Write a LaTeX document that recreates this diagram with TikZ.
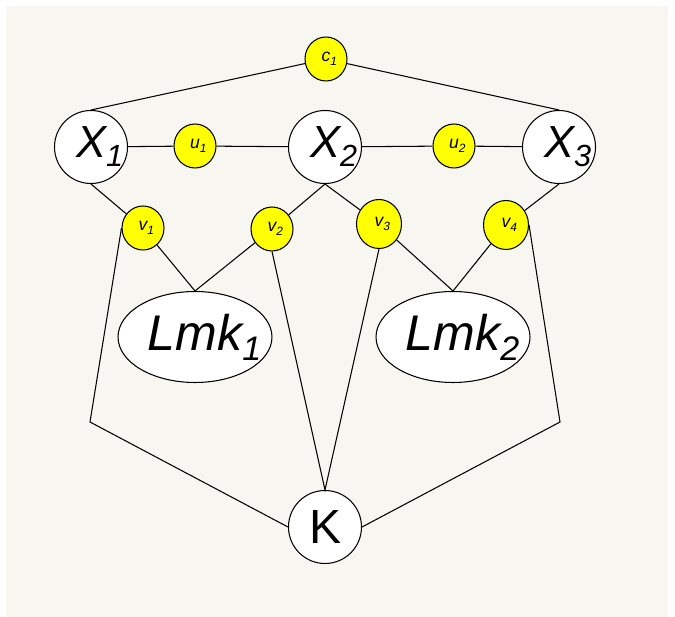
\documentclass[tikz,border=0pt]{standalone}
\usepackage{fontspec}
\setmainfont{Liberation Sans}
\usetikzlibrary{shapes.geometric}

\definecolor{paper}{RGB}{248,246,240}
\definecolor{factor}{RGB}{255,255,0}

\newcommand{\idx}[1]{\rlap{\raisebox{-0.2em}{\scalebox{0.68}{#1}}}}

\tikzset{
  pose/.style={circle, draw, fill=white, minimum size=1.46cm, inner sep=0pt,
    font=\fontsize{25.6}{30}\selectfont\itshape},
  fac/.style={ellipse, draw, fill=factor, minimum width=0.84cm, minimum height=0.88cm,
    inner sep=0pt, font=\fontsize{10}{12}\selectfont\itshape},
  lmk/.style={ellipse, draw, fill=white, minimum width=3.08cm, minimum height=1.82cm,
    inner sep=0pt, font=\fontsize{28.5}{34}\selectfont\itshape},
}

\begin{document}
\begin{tikzpicture}[x=0.02cm, y=-0.02cm, line width=0.6pt]
      \useasboundingbox (0, 0) rectangle (675, 617);
      \fill [white] (0, 0) rectangle (675, 617);
      \fill [paper] (6, 6) rectangle (668, 617);

      \node [fac] (c1) at (326, 59) {c\idx{1}};
      \node [pose] (x1) at (91, 147) {X\idx{1}};
      \node [pose] (x2) at (325, 147) {X\idx{2}};
      \node [pose] (x3) at (559, 147) {X\idx{3}};
      \node [fac] (u1) at (195, 146) {u\idx{1}};
      \node [fac] (u2) at (454, 146) {u\idx{2}};
      \node [fac] (v1) at (143, 228) {v\idx{1}};
      \node [fac] (v2) at (272, 229) {v\idx{2}};
      \node [fac, minimum width=0.9cm, minimum height=0.98cm] (v3) at (379, 224) {v\idx{3}};
      \node [fac, minimum width=0.9cm, minimum height=0.98cm] (v4) at (506, 225) {v\idx{4}};
      \node [lmk] (lmk1) at (195, 337) {Lmk\idx{1}};
      \node [lmk] (lmk2) at (453, 337) {Lmk\idx{2}};
      \node [pose, font=\fontsize{27.3}{32}\selectfont] (k) at (325, 527) {K};
      \coordinate (cl) at (90, 422);
      \coordinate (cr) at (560, 422);

      \draw (c1) -- (x1.north);
      \draw (c1) -- (x3.north);
      \draw (x1) -- (u1) -- (x2) -- (u2) -- (x3);
      \draw (x1.south) -- (v1);
      \draw (x2.south) -- (v2);
      \draw (x2.south) -- (v3);
      \draw (x3.south) -- (v4);
      \draw (v1) -- (lmk1.north) -- (v2);
      \draw (v3) -- (lmk2.north) -- (v4);
      \draw (v2.south) -- (k.north) -- (v3.south);
      \draw (v1.west) -- (cl) -- (k.west);
      \draw (v4.east) -- (cr) -- (k.east);
    \end{tikzpicture}
\end{document}
